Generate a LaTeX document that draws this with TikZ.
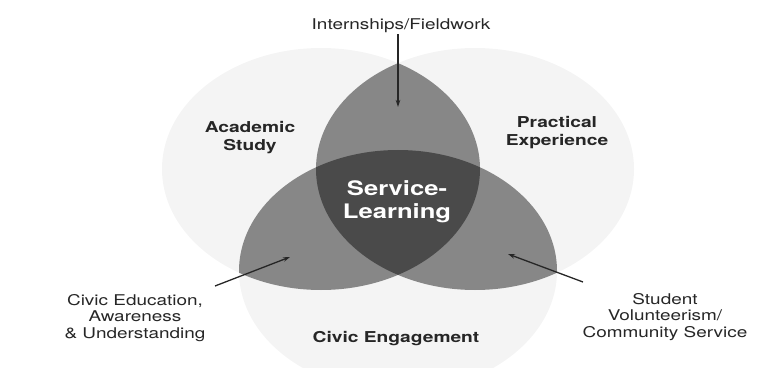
\documentclass[tikz,border=0pt]{standalone}
\usepackage{fontspec}
\setmainfont{TeX Gyre Heros}
\usetikzlibrary{arrows.meta}
\definecolor{haze}{gray}{0.955}
\definecolor{lensgray}{gray}{0.53}
\definecolor{coregray}{gray}{0.29}
\definecolor{inkgray}{gray}{0.15}
\begin{document}
\begin{tikzpicture}[x=1pt, y=1pt,
	lbl/.style={inkgray, align=center, xscale=1.28, inner sep=1pt, font=\fontsize{14.8}{16.5}\selectfont},
	area/.style={lbl, font=\bfseries\fontsize{15}{18}\selectfont},
	pointer/.style={draw=inkgray, line width=1.3pt, -{Stealth[length=7pt, width=4.5pt]}}]
	\useasboundingbox (0,0) rectangle (784,367);
	\def\acadpath{(321,198) ellipse [x radius=159, y radius=121]}
	\def\practpath{(475,198) ellipse [x radius=159, y radius=121]}
	\def\civicpath{(398,96) ellipse [x radius=159, y radius=121]}
	
	% three fields and their overlaps
	\begin{scope}
		\clip (0,0) rectangle (784,367);
		\fill[haze] \acadpath \practpath \civicpath;
		\begin{scope} \clip \acadpath; \fill[lensgray] \practpath; \end{scope}
		\begin{scope} \clip \acadpath; \fill[lensgray] \civicpath; \end{scope}
		\begin{scope} \clip \practpath; \fill[lensgray] \civicpath; \end{scope}
		\begin{scope} \clip \acadpath; \clip \practpath; \fill[coregray] \civicpath; \end{scope}
	\end{scope}
	
	\node[area] (acad) at (250,229) {Academic\\Study};
	\node[area] (pract) at (557,234) {Practical\\Experience};
	\node[area] (civic) at (396,28) {Civic Engagement};
	\node[lbl, white, font=\bfseries\fontsize{20}{23}\selectfont] (core) at (397,165) {Service-\\Learning};
	
	\node[lbl, anchor=base] (intern) at (401,337) {Internships/Fieldwork};
	\node[lbl] (edu) at (135,49) {Civic Education,\\Awareness\\\& Understanding};
	\node[lbl] (volun) at (665,50) {Student\\Volunteerism/\\Community Service};
	
	\coordinate (interntip) at (398,260);
	\coordinate (edutail) at (215,81);
	\coordinate (edutip) at (290,110);
	\coordinate (voluntail) at (583,85);
	\coordinate (voluntip) at (508,113);
	
	\draw[pointer] (interntip |- intern.south) -- (interntip);
	\draw[pointer] (edutail) -- (edutip);
	\draw[pointer] (voluntail) -- (voluntip);
\end{tikzpicture}
\end{document}
